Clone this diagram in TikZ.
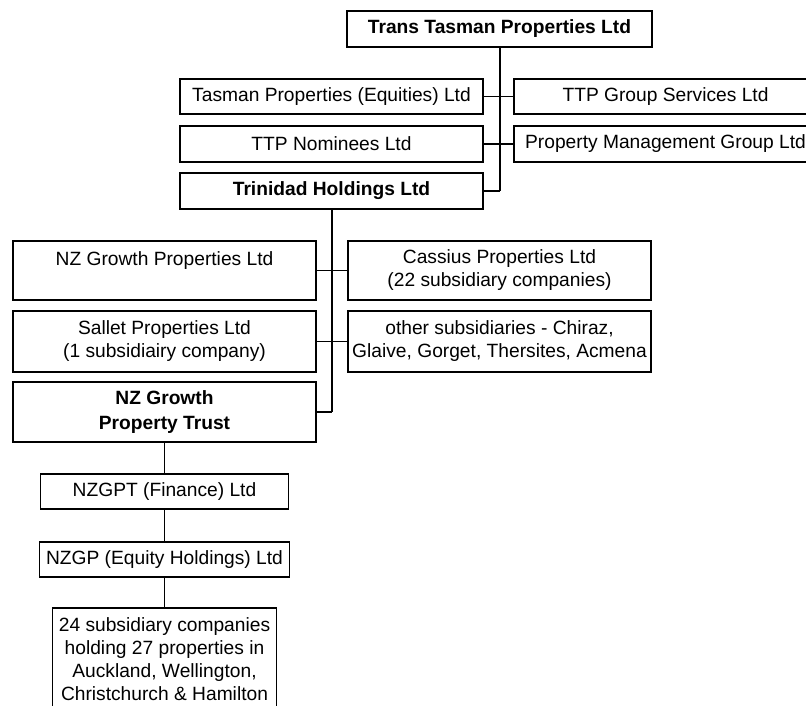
\documentclass[tikz,border=0pt]{standalone}
\usepackage{fontspec}
\setmainfont{Liberation Sans}
\begin{document}
\begin{tikzpicture}[x=0.75pt,y=-0.75pt,
  box/.style={draw, line width=0.8pt, rectangle, inner sep=0pt, align=center,
    font=\fontsize{14.4}{17.3}\selectfont},
  boldbox/.style={box, font=\fontsize{14.4}{18.5}\selectfont\bfseries},
  link/.style={line width=0.8pt},
  trunk/.style={line width=1.5pt}]
\useasboundingbox (0,0) rectangle (806,706);
% top level
\node[boldbox, minimum width=228.75pt, minimum height=27pt] (top) at (499.5,29) {Trans Tasman Properties Ltd};
\node[box, minimum width=227.25pt, minimum height=26.25pt] (tpe) at (331.5,96.5) {Tasman Properties (Equities) Ltd};
\node[box, minimum width=227.25pt, minimum height=26.25pt] (tgs) at (665.5,96.5) {TTP Group Services Ltd};
\node[box, minimum width=227.25pt, minimum height=27pt] (nom) at (331.5,144) {TTP Nominees Ltd};
\node[box, minimum width=227.25pt, minimum height=27pt] (pmg) at (665.5,144) {Property Management Group Ltd};
\node[boldbox, minimum width=227.25pt, minimum height=27pt] (trin) at (331.5,191) {Trinidad Holdings Ltd};
% second level
\node[box, minimum width=227.25pt, minimum height=44.25pt] (ngp) at (164.5,270.5) {NZ Growth Properties Ltd\\~};
\node[box, minimum width=227.25pt, minimum height=44.25pt] (cas) at (499.5,270.5) {Cassius Properties Ltd\\(22 subsidiary companies)};
\node[box, minimum width=227.25pt, minimum height=45.75pt] (sal) at (164.5,341.5) {Sallet Properties Ltd\\(1 subsidiairy company)};
\node[box, minimum width=227.25pt, minimum height=45.75pt] (oth) at (499.5,341.5) {other subsidiaries - Chiraz,\\Glaive, Gorget, Thersites, Acmena};
\node[boldbox, minimum width=227.25pt, minimum height=45pt] (trust) at (164.5,412) {NZ Growth\\Property Trust};
% third level
\node[box, minimum width=186pt, minimum height=26.25pt] (fin) at (164.5,491.5) {NZGPT (Finance) Ltd};
\node[box, minimum width=187.5pt, minimum height=26.25pt] (eq) at (164.5,559.5) {NZGP (Equity Holdings) Ltd};
\node[box, minimum width=168pt, minimum height=77.25pt] (sub) at (164.5,659.5) {24 subsidiary companies\\holding 27 properties in\\Auckland, Wellington,\\Christchurch \& Hamilton};
% connectors
\coordinate (j1) at (top.south |- trin.east);
\draw[trunk] (top.south) -- (j1);
\draw[link] (j1) -- (trin.east);
\draw[link] (tpe.east) -- (tgs.west);
\draw[link] (nom.east) -- (pmg.west);
\coordinate (j2) at (trin.south |- trust.east);
\draw[trunk] (trin.south) -- (j2);
\draw[link] (j2) -- (trust.east);
\draw[link] (ngp.east) -- (cas.west);
\draw[link] (sal.east) -- (oth.west);
\draw[link] (trust.south) -- (fin.north);
\draw[link] (fin.south) -- (eq.north);
\draw[link] (eq.south) -- (sub.north);
\end{tikzpicture}
\end{document}
